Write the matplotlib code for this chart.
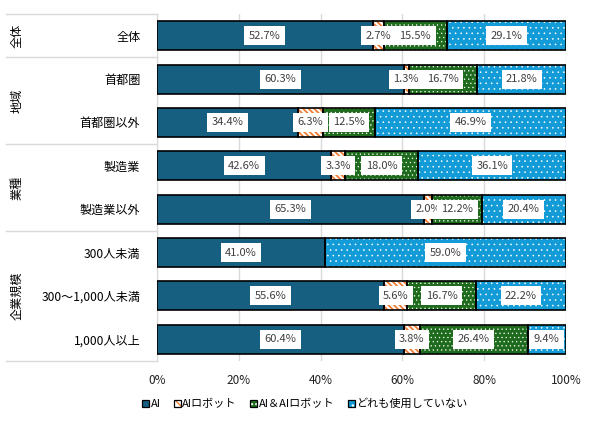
import matplotlib
matplotlib.use("Agg")
import matplotlib.pyplot as plt
import numpy as np
from matplotlib.lines import Line2D
from matplotlib.patches import Patch
from matplotlib.legend_handler import HandlerTuple

plt.rcParams['font.family'] = ['Noto Sans CJK JP', 'DejaVu Sans']

categories = ["全体", "首都圏", "首都圏以外", "製造業", "製造業以外",
              "300人未満", "300～1,000人未満", "1,000人以上"]
groups = ["全体", "地域", "業種", "企業規模"]
group_sizes = [1, 2, 2, 3]
series_names = ["AI", "AIロボット", "AI＆AIロボット", "どれも使用していない"]
ai = [52.7, 60.3, 34.4, 42.6, 65.3, 41.0, 55.6, 60.4]
robot = [2.7, 1.3, 6.3, 3.3, 2.0, 0.0, 5.6, 3.8]
both = [15.5, 16.7, 12.5, 18.0, 12.2, 0.0, 16.7, 26.4]
none_ = [29.1, 21.8, 46.9, 36.1, 20.4, 59.0, 22.2, 9.4]
xticks = [0, 20, 40, 60, 80, 100]

W, H = 597, 423
fig = plt.figure(figsize=(W / 100, H / 100), dpi=100)
L, R, T, B = 157, 566, 14, 361
ax = fig.add_axes([L / W, 1 - B / H, (R - L) / W, (B - T) / H])

series = [ai, robot, both, none_]
faces = ["#175f80", "white", "#1e6b1e", "#129bd6"]
hatches = [None, "\\\\\\\\\\\\", "....", "..."]
hcolors = [None, "#f07c32", "white", "white"]
hlws = [1.0, 1.3, 0.4, 0.4]

y = np.arange(len(categories))
h = 0.67
left = np.zeros(len(categories))
for vals, fc, hat, hc, hlw in zip(series, faces, hatches, hcolors, hlws):
    vals = np.array(vals)
    mask = vals > 0
    with plt.rc_context({'hatch.linewidth': hlw}):
        if hat:
            ax.barh(y[mask], vals[mask], left=left[mask], height=h, color=fc,
                    hatch=hat, edgecolor=hc, linewidth=0, zorder=2)
        else:
            ax.barh(y[mask], vals[mask], left=left[mask], height=h, color=fc,
                    linewidth=0, zorder=2)
    ax.barh(y[mask], vals[mask], left=left[mask], height=h, facecolor="none",
            edgecolor="black", linewidth=1.2, zorder=3)
    for yi, v, l in zip(y, vals, left):
        if v > 0:
            ax.text(l + v / 2, yi, f"{v:.1f}%", ha="center", va="center",
                    fontsize=8, color="#404040", zorder=5,
                    bbox=dict(boxstyle="square,pad=0.4", fc="white", ec="none"))
    left = left + vals

ax.set_xlim(0, 100)
ax.set_ylim(len(categories) - 0.5, -0.5)
ax.set_xticks(xticks)
ax.set_xticklabels([f"{t}%" for t in xticks], fontsize=8.5, color="#222222")
ax.set_yticks(y)
ax.set_yticklabels(categories, fontsize=8.7, color="black")
ax.tick_params(axis="both", length=0)
ax.tick_params(axis="y", pad=12)
ax.tick_params(axis="x", pad=9)
ax.grid(axis="x", color="#d9d9d9", linewidth=1, zorder=0)
ax.set_axisbelow(True)
for s in ["top", "right", "bottom"]:
    ax.spines[s].set_visible(False)
ax.spines["left"].set_color("#d9d9d9")
ax.spines["left"].set_zorder(1)

# group separators and labels
bounds = [0]
for g in group_sizes:
    bounds.append(bounds[-1] + g)
trans = matplotlib.transforms.blended_transform_factory(fig.transFigure, ax.transData)
for b in bounds:
    fig.add_artist(Line2D([6 / W, L / W], [b - 0.5, b - 0.5], transform=trans,
                          color="#d9d9d9", linewidth=1))
for gname, b0, b1 in zip(groups, bounds[:-1], bounds[1:]):
    fig.text(17 / W, (b0 + b1) / 2 - 0.5, gname, transform=trans, rotation=90,
             ha="center", va="center", fontsize=8.7)

handles = []
for f, hh, hc in zip(faces, hatches, hcolors):
    with plt.rc_context({'hatch.linewidth': 1.0}):
        fill = Patch(facecolor=f, hatch=(hh[:4] if hh else None),
                     edgecolor=(hc if hc else f), linewidth=0)
    outline = Patch(facecolor="none", edgecolor="black", linewidth=0.9)
    handles.append((fill, outline))
leg = fig.legend(handles, series_names, loc="center left",
                 bbox_to_anchor=(142 / W, 1 - 404 / H),
                 handler_map={tuple: HandlerTuple(ndivide=1, pad=0)},
                 ncol=4, frameon=False, fontsize=8, handlelength=0.62, handleheight=0.62,
                 handletextpad=0.15, columnspacing=1.2, borderaxespad=0, borderpad=0)

fig.savefig("out.png", dpi=100)
